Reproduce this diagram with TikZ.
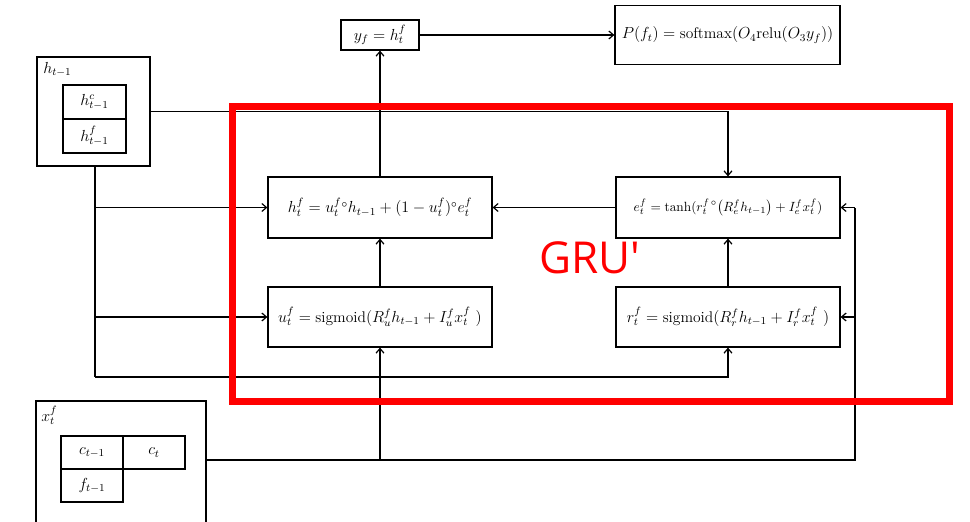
\documentclass[tikz,border=0pt]{standalone}
\usepackage{fontspec}
\newfontfamily\grufont{Open Sans}
\usetikzlibrary{arrows.meta}
\begin{document}
\begin{tikzpicture}[x=0.75pt,y=-0.75pt,
  box/.style={draw,line width=0.9pt,inner sep=0pt,font=\fontsize{11.6}{13}\selectfont},
  lab/.style={font=\fontsize{12}{14}\selectfont},
  conn/.style={line width=0.9pt},
  arr/.style={conn,-{Straight Barb[length=3.5pt,width=6pt,line width=0.9pt]}},
  redframe/.style={draw=red,line width=5.25pt}]
\useasboundingbox (0,0) rectangle (970,521);
\clip (0,0) rectangle (970,521);
% top boxes
\node[box,minimum width=58.5pt,minimum height=22.5pt] (yf) at (380,35) {$y_f = h_t^f$};
\node[box,minimum width=168.75pt,minimum height=44.25pt] (P) at (727.5,35) {$P(f_t) = \mathrm{softmax}(O_4\mathrm{relu}(O_3 y_f))$};
% h_{t-1}
\node[box,minimum width=84.75pt,minimum height=81.75pt] (hprev) at (93.5,111.5) {};
\node[lab,anchor=north west,inner sep=0pt] (hprevlab) at (43,62) {$h_{t-1}$};
\node[box,lab,minimum width=47.25pt,minimum height=25.5pt] (hc) at (94.5,102) {$h_{t-1}^c$};
\node[box,lab,minimum width=47.25pt,minimum height=25.5pt] (hfp) at (94.5,136) {$h_{t-1}^f$};
% GRU boxes
\node[box,minimum width=168pt,minimum height=45.75pt] (hbox) at (380,207.5) {$h_t^f = u_t^f{}^{\circ} h_{t-1} + (1-u_t^f){}^{\circ} e_t^f$};
\node[box,minimum width=168pt,minimum height=45.75pt,font=\fontsize{10}{12}\selectfont] (ebox) at (728,207.5) {$e_t^f = \tanh(r_t^{f\,\circ}\bigl(R_e^f h_{t-1}\bigr) + I_e^f x_t^f)$};
\node[box,minimum width=168pt,minimum height=45pt] (ubox) at (380,317) {$u_t^f = \mathrm{sigmoid}(R_u^f h_{t-1} + I_u^f x_t^f\ )$};
\node[box,minimum width=168pt,minimum height=45pt] (rbox) at (728,317) {$r_t^f = \mathrm{sigmoid}(R_r^f h_{t-1} + I_r^f x_t^f\ )$};
% x_t^f
\node[box,minimum width=127.5pt,minimum height=105pt] (xbox) at (121,471) {};
\node[lab,anchor=north west,inner sep=0pt] (xlab) at (41,406) {$x_t^f$};
\node[box,lab,minimum width=46.5pt,minimum height=24.75pt] (cprev) at (92,452.5) {$c_{t-1}$};
\node[box,lab,minimum width=46.5pt,minimum height=24.75pt] (ct) at (154,452.5) {$c_t$};
\node[box,lab,minimum width=46.5pt,minimum height=24.75pt] (fprev) at (92,485.5) {$f_{t-1}$};
% coordinates
\coordinate (hdown) at (95,377);
\coordinate (hb1) at (hdown |- hbox.west);
\coordinate (hb2) at (hdown |- ubox.west);
\coordinate (xr) at (855,460);
\coordinate (xe) at (xr |- ebox.east);
\coordinate (xrr) at (xr |- rbox.east);
\coordinate (xu) at (ubox.south |- xr);
% connectors
\draw[arr] (hbox.north) -- (yf.south);
\draw[arr] (yf.east) -- (P.west);
\draw[arr] (hprev.east) -| (ebox.north);
\draw[conn] (hprev.south -| hdown) -- (hdown);
\draw[arr] (hdown) -| (rbox.south);
\draw[arr] (hb1) -- (hbox.west);
\draw[arr] (hb2) -- (ubox.west);
\draw[arr] (ebox.west) -- (hbox.east);
\draw[arr] (ubox.north) -- (hbox.south);
\draw[arr] (rbox.north) -- (ebox.south);
\draw[conn] (xbox.east |- xr) -- (xr) -- (xe);
\draw[arr] (xe) -- (ebox.east);
\draw[arr] (xrr) -- (rbox.east);
\draw[arr] (xu) -- (ubox.south);
% red frame
\draw[redframe] (232,106) rectangle (949,401);
\node[text=red,font=\grufont\fontsize{33}{36}\selectfont,inner sep=0pt] (gru) at (590,258) {GRU'};
\end{tikzpicture}
\end{document}
